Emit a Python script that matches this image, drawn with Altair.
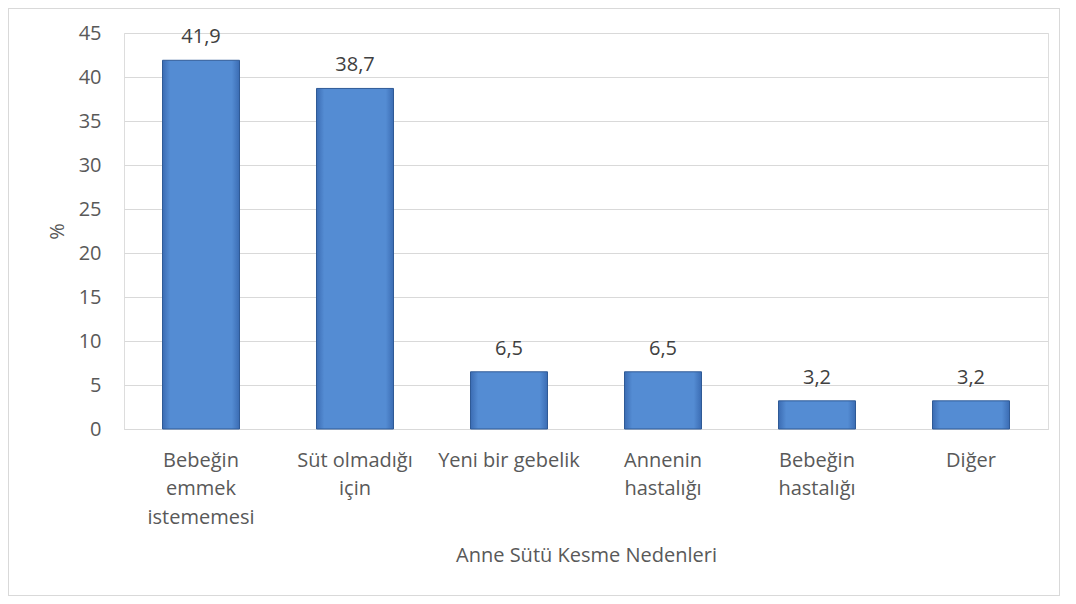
import altair as alt
import pandas as pd

categories = ["Bebeğin|emmek|istememesi", "Süt olmadığı|için", "Yeni bir gebelik",
              "Annenin|hastalığı", "Bebeğin|hastalığı", "Diğer"]
values = [41.9, 38.7, 6.5, 6.5, 3.2, 3.2]
y_ticks = [0, 5, 10, 15, 20, 25, 30, 35, 40, 45]

df = pd.DataFrame({"cat": categories, "v": values})

FONT = "Open Sans"
GRAY = "#595959"
FS = 20

x_enc = alt.X("cat:N", sort=categories,
              scale=alt.Scale(paddingInner=0.5, paddingOuter=0.25),
              axis=alt.Axis(title="Anne Sütü Kesme Nedenleri", labelAngle=0,
                            labelExpr="split(datum.label, '|')",
                            labelLineHeight=28.5, labelPadding=21, labelBaseline="top",
                            labelFontSize=FS, labelColor=GRAY, labelFont=FONT,
                            ticks=False, domain=True, domainColor="#d9d9d9",
                            titleFontSize=FS, titleFont=FONT, titleColor=GRAY,
                            titleFontWeight="normal", titleY=132,
                            titleBaseline="alphabetic"))

y_enc = alt.Y("v:Q", scale=alt.Scale(domain=[0, 45], nice=False),
              axis=alt.Axis(title="%", values=y_ticks, grid=True, gridColor="#d9d9d9",
                            ticks=False, domain=False, labelPadding=23,
                            labelFontSize=FS, labelColor=GRAY, labelFont=FONT,
                            titleFontSize=FS, titleFont=FONT, titleColor=GRAY,
                            titleFontWeight="normal", titleX=-67, titleY=198,
                            titleBaseline="middle"))

gradient = alt.Gradient(
    gradient="linear", x1=0, x2=1, y1=0, y2=0,
    stops=[alt.GradientStop(offset=0, color="#3b6cb3"),
           alt.GradientStop(offset=0.1, color="#548cd3"),
           alt.GradientStop(offset=0.9, color="#548cd3"),
           alt.GradientStop(offset=1, color="#3b6cb3")])

bars = alt.Chart(df).mark_bar(color=gradient, stroke="#2f5a96", strokeWidth=1).encode(
    x=x_enc, y=y_enc)

labels = alt.Chart(df).transform_calculate(
    lab="replace(format(datum.v, '.1f'), '.', ',')"
).mark_text(fontSize=FS, font=FONT, color="#404040", baseline="alphabetic", dy=-17).encode(
    x=alt.X("cat:N", sort=categories), y="v:Q", text="lab:N")

border = alt.Chart(df).mark_rect(fill=None, stroke="#d9d9d9", strokeWidth=1).encode(
    x=alt.value(-115.5), x2=alt.value(935.5), y=alt.value(-24.5), y2=alt.value(562.5))

chart = alt.layer(border, bars, labels).properties(
    width=924, height=396,
    autosize=alt.AutoSizeParams(type="none"),
    padding={"left": 116, "top": 25, "right": 20, "bottom": 167},
).configure_view(stroke=None).configure(background="white")

chart.save("out.html", embed_options={"renderer": "svg", "actions": False})
